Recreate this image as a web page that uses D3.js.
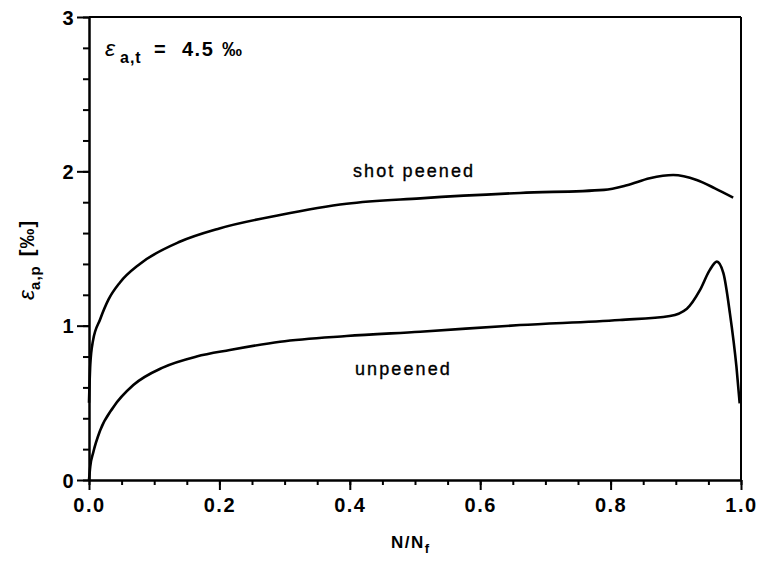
<!DOCTYPE html>
<html>
<head>
<meta charset="utf-8">
<script src="https://cdn.jsdelivr.net/npm/d3@7"></script>
<style>
body { margin: 0; background: #fff; }
text { font-family: "Liberation Sans", Arial, sans-serif; fill: #000; }
.axis path, .axis line { stroke: #000; stroke-width: 2px; }
.axis text { font-size: 20px; font-weight: bold; letter-spacing: 1.5px; }
.curve { fill: none; stroke: #000; stroke-width: 2.6px; }
.lbl { font-size: 18px; letter-spacing: 2.1px; stroke: #000; stroke-width: 0.35px; }
</style>
</head>
<body>
<div id="chart"></div>
<script>
var width = 759;
var height = 561;
var margin = {top: 17, right: 18, bottom: 81, left: 89};

// N/Nf values and plastic strain amplitude in per mille
var shotX = [0, 0.002, 0.006, 0.017, 0.03, 0.0475, 0.078, 0.14, 0.2, 0.293, 0.395, 0.508, 0.661, 0.79, 0.825, 0.86, 0.896, 0.932, 0.96, 0.988];
var shotY = [0.50, 0.75, 0.90, 1.04, 1.17, 1.28, 1.40, 1.545, 1.63, 1.717, 1.79, 1.825, 1.86, 1.88, 1.91, 1.955, 1.976, 1.944, 1.89, 1.83];

var unpX = [0, 0.002, 0.0066, 0.017, 0.037, 0.068, 0.114, 0.165, 0.216, 0.293, 0.395, 0.508, 0.661, 0.814, 0.891, 0.917, 0.937, 0.952, 0.963, 0.973, 0.983, 0.993, 0.998];
var unpY = [0, 0.09, 0.18, 0.32, 0.47, 0.615, 0.73, 0.80, 0.842, 0.896, 0.933, 0.961, 1.004, 1.037, 1.063, 1.11, 1.23, 1.36, 1.415, 1.34, 1.08, 0.734, 0.497];

var xTicks = [0, 0.2, 0.4, 0.6, 0.8, 1.0];
var yTicks = [0, 1, 2, 3];

var svg = d3.select("#chart").append("svg")
    .attr("width", width)
    .attr("height", height);

var x = d3.scaleLinear().domain([0, 1]).range([margin.left, width - margin.right]);
var y = d3.scaleLinear().domain([0, 3]).range([height - margin.bottom, margin.top]);

// frame: top and right lines
svg.append("line")
    .attr("x1", x(0)).attr("x2", x(1))
    .attr("y1", y(3)).attr("y2", y(3))
    .attr("stroke", "#000").attr("stroke-width", 2);
svg.append("line")
    .attr("x1", x(1)).attr("x2", x(1))
    .attr("y1", y(3)).attr("y2", y(0))
    .attr("stroke", "#000").attr("stroke-width", 2);

// minor ticks
svg.append("g")
    .attr("class", "axis")
    .attr("transform", "translate(0," + y(0) + ")")
    .call(d3.axisBottom(x).tickValues(d3.range(0, 1.001, 0.05)).tickSize(5).tickFormat("").tickSizeOuter(0));
svg.append("g")
    .attr("class", "axis")
    .attr("transform", "translate(" + x(0) + ",0)")
    .call(d3.axisLeft(y).tickValues(d3.range(0, 3.001, 0.2)).tickSize(6).tickFormat("").tickSizeOuter(0));

// major ticks with labels
svg.append("g")
    .attr("class", "axis")
    .attr("transform", "translate(0," + y(0) + ")")
    .call(d3.axisBottom(x).tickValues(xTicks).tickSize(10).tickFormat(d3.format(".1f")).tickSizeOuter(0))
    .selectAll("text").attr("y", 32).attr("dy", 0);
svg.append("g")
    .attr("class", "axis")
    .attr("transform", "translate(" + x(0) + ",0)")
    .call(d3.axisLeft(y).tickValues(yTicks).tickSize(12).tickPadding(2).tickFormat(d3.format("d")).tickSizeOuter(0))
    .selectAll("text").attr("dy", "0.36em");

var line = d3.line()
    .x(function (d) { return x(d[0]); })
    .y(function (d) { return y(d[1]); })
    .curve(d3.curveMonotoneX);

svg.append("path")
    .attr("class", "curve")
    .attr("d", line(d3.zip(shotX, shotY)));
svg.append("path")
    .attr("class", "curve")
    .attr("d", line(d3.zip(unpX, unpY)));

// curve labels
svg.append("text").attr("class", "lbl")
    .attr("x", 353).attr("y", 177)
    .text("shot peened");
svg.append("text").attr("class", "lbl")
    .attr("x", 355).attr("y", 375)
    .text("unpeened");

// total strain amplitude note
var note = svg.append("text")
    .attr("y", 56)
    .style("font-size", "20px").style("font-weight", "bold");
note.append("tspan").attr("x", 105).style("font-size", "23px").style("font-weight", "normal").style("font-style", "italic").text("ε");
note.append("tspan").attr("x", 120).attr("dy", 7).style("font-size", "16px").style("letter-spacing", "1px").text("a,t");
note.append("tspan").attr("x", 154).attr("dy", -7).text("=");
note.append("tspan").attr("x", 182).style("letter-spacing", "1.5px").text("4.5");
note.append("tspan").attr("x", 222).text("‰");

// axis titles
var xlab = svg.append("text")
    .attr("x", 391).attr("y", 548)
    .style("font-size", "17px").style("font-weight", "bold").style("letter-spacing", "1.5px");
xlab.append("tspan").text("N/N");
xlab.append("tspan").attr("dy", 5).style("font-size", "13px").text("f");

var ylab = svg.append("text")
    .attr("transform", "translate(34,300) rotate(-90)")
    .style("font-size", "20px").style("font-weight", "bold");
ylab.append("tspan").style("font-size", "23px").style("font-weight", "normal").style("font-style", "italic").text("ε");
ylab.append("tspan").attr("dy", 6).style("font-size", "15px").style("letter-spacing", "1px").text("a,p");
ylab.append("tspan").attr("dy", -6).attr("dx", 9).style("letter-spacing", "1px").text("[‰]");
</script>
</body>
</html>
